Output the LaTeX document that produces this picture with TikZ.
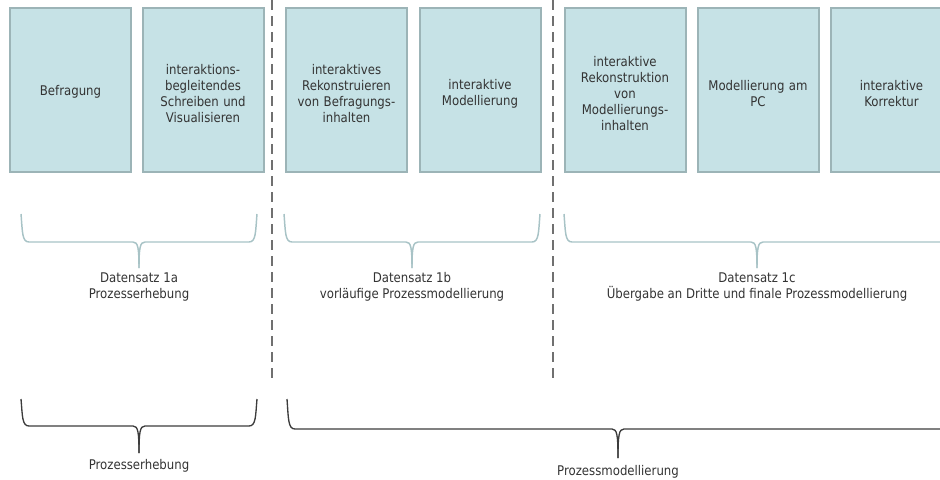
\documentclass[tikz,border=0pt]{standalone}
\usepackage{fontspec}
\setmainfont{DejaVu Sans}[FakeStretch=0.88]
\definecolor{boxfill}{HTML}{C6E2E6}
\definecolor{boxline}{HTML}{9CB4B7}
\definecolor{txt}{HTML}{333333}
\definecolor{bracetop}{HTML}{A8C3C6}
\definecolor{bracebot}{HTML}{3C3C3C}
\definecolor{sep}{HTML}{707070}
\tikzset{
  stage/.style={draw=boxline, line width=1.5pt, fill=boxfill, minimum width=90.75pt, minimum height=123pt, inner sep=0pt, text width=86pt, align=center, text=txt, font=\fontsize{10}{12}\selectfont, execute at end node={\par\vspace*{-6pt}}},
  lbl/.style={align=center, text=txt, font=\fontsize{10}{12}\selectfont, inner sep=0pt},
  sepline/.style={draw=sep, line width=1.7pt, dash pattern=on 7.5pt off 4.5pt},
  topbrace/.style={draw=bracetop, line width=1.1pt},
  botbrace/.style={draw=bracebot, line width=1pt},
}
% brace: #1 left x, #2 right x, #3 top y, #4 horizontal y, #5 tip y, #6 center x
\newcommand{\mybrace}[7]{%
  \draw[#7] (#1,#3) .. controls (#1+1.5,#4-10) and (#1+1,#4) .. (#1+8,#4) -- (#6-6,#4) .. controls (#6-1,#4) and (#6,#4+6) .. (#6,#5);
  \draw[#7] (#2,#3) .. controls (#2-1.5,#4-10) and (#2-1,#4) .. (#2-8,#4) -- (#6+6,#4) .. controls (#6+1,#4) and (#6,#4+6) .. (#6,#5);
}
\begin{document}
\begin{tikzpicture}[x=0.75pt,y=-0.75pt]
\useasboundingbox (0,0) rectangle (940,479);
\begin{scope}
\clip (0,0) rectangle (940,479);
\node[stage] (b1) at (70.5,90) {Befragung};
\node[stage] (b2) at (203,90) {interaktions-\\begleitendes\\Schreiben und\\Visualisieren};
\node[stage] (b3) at (346.5,90) {interaktives\\Rekonstruieren\\von Befragungs-\\inhalten};
\node[stage] (b4) at (480,90) {interaktive\\Modellierung};
\node[stage] (b5) at (625,90) {interaktive\\Rekonstruktion\\von\\Modellierungs-\\inhalten};
\node[stage] (b6) at (758,90) {Modellierung am\\PC};
\node[stage] (b7) at (891.5,90) {interaktive\\Korrektur};

\coordinate (s1a) at (272,0);
\coordinate (s1b) at (272,384);
\coordinate (s2a) at (553,0);
\coordinate (s2b) at (553,384);
\draw[sepline] (s1a) -- (s1b);
\draw[sepline] (s2a) -- (s2b);

\mybrace{21}{257}{214}{242}{268}{139}{topbrace}
\mybrace{284}{540}{214}{242}{268}{412}{topbrace}
\mybrace{564}{951}{214}{242}{268}{757}{topbrace}

\node[lbl] (d1) at (139,287) {Datensatz 1a\\Prozesserhebung};
\node[lbl] (d2) at (412,287) {Datensatz 1b\\vorläufige Prozessmodellierung};
\node[lbl] (d3) at (757,287) {Datensatz 1c\\Übergabe an Dritte und finale Prozessmodellierung};

\mybrace{21}{257}{399}{426}{453}{139}{botbrace}
\mybrace{287}{950}{399}{429}{458}{618}{botbrace}

\node[lbl] (p1) at (139,466) {Prozesserhebung};
\node[lbl] (p2) at (618,472) {Prozessmodellierung};
\end{scope}
\end{tikzpicture}
\end{document}
